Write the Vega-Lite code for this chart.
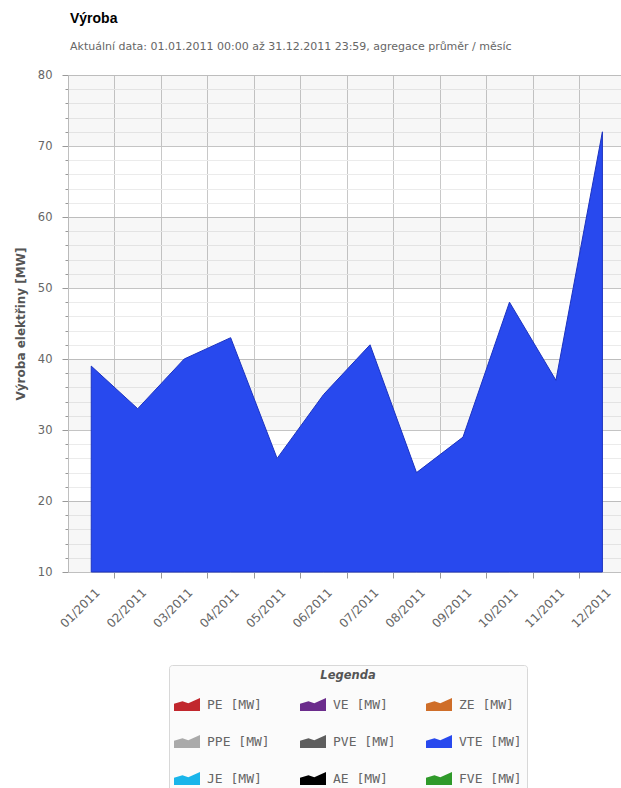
{
  "$schema": "https://vega.github.io/schema/vega-lite/v6.json",
  "width": 553,
  "height": 497,
  "autosize": {"type": "none"},
  "padding": {"left": 68, "top": 75, "right": 0, "bottom": 216},
  "background": "white",
  "title": {
    "text": "Výroba",
    "subtitle": "Aktuální data: 01.01.2011 00:00 až 31.12.2011 23:59, agregace průměr / měsíc",
    "anchor": "start",
    "frame": "group",
    "font": "Liberation Sans",
    "fontSize": 14,
    "fontWeight": "bold",
    "color": "#000000",
    "subtitleFont": "DejaVu Sans",
    "subtitleFontSize": 11,
    "subtitleColor": "#666666",
    "subtitlePadding": 15,
    "offset": 17,
    "dx": 2
  },
  "config": {"view": {"stroke": null}},
  "datasets": {
    "vyroba": [
      {"mesic": 1, "vyroba": 39, "serie": "VTE [MW]"},
      {"mesic": 2, "vyroba": 33, "serie": "VTE [MW]"},
      {"mesic": 3, "vyroba": 40, "serie": "VTE [MW]"},
      {"mesic": 4, "vyroba": 43, "serie": "VTE [MW]"},
      {"mesic": 5, "vyroba": 26, "serie": "VTE [MW]"},
      {"mesic": 6, "vyroba": 35, "serie": "VTE [MW]"},
      {"mesic": 7, "vyroba": 42, "serie": "VTE [MW]"},
      {"mesic": 8, "vyroba": 24, "serie": "VTE [MW]"},
      {"mesic": 9, "vyroba": 29, "serie": "VTE [MW]"},
      {"mesic": 10, "vyroba": 48, "serie": "VTE [MW]"},
      {"mesic": 11, "vyroba": 37, "serie": "VTE [MW]"},
      {"mesic": 12, "vyroba": 72, "serie": "VTE [MW]"}
    ],
    "pasy": [
      {"od": 10, "do": 20},
      {"od": 30, "do": 40},
      {"od": 50, "do": 60},
      {"od": 70, "do": 80}
    ]
  },
  "layer": [
    {
      "data": {"name": "pasy"},
      "mark": {"type": "rect", "fill": "#000000", "opacity": 0.03},
      "encoding": {
        "y": {
          "field": "od",
          "type": "quantitative",
          "scale": {"domain": [10, 80], "nice": false, "zero": false},
          "axis": {
            "orient": "left",
            "values": [12, 14, 16, 18, 22, 24, 26, 28, 32, 34, 36, 38, 42, 44, 46, 48, 52, 54, 56, 58, 62, 64, 66, 68, 72, 74, 76, 78],
            "grid": true,
            "gridColor": "#ebebeb",
            "ticks": true,
            "tickSize": 3,
            "tickColor": "#999999",
            "labels": false,
            "domain": false,
            "title": null
          }
        },
        "y2": {"field": "do"}
      }
    },
    {
      "data": {"name": "vyroba"},
      "mark": {"type": "point", "opacity": 0},
      "encoding": {
        "x": {
          "field": "mesic",
          "type": "quantitative",
          "scale": {"domain": [0.5, 12.4], "nice": false, "zero": false},
          "axis": {
            "orient": "bottom",
            "values": [1.5, 2.5, 3.5, 4.5, 5.5, 6.5, 7.5, 8.5, 9.5, 10.5, 11.5],
            "grid": true,
            "gridColor": "#c8c8c8",
            "ticks": true,
            "tickSize": 6,
            "tickColor": "#999999",
            "labels": false,
            "domain": false,
            "title": null
          }
        },
        "y": {"field": "vyroba", "type": "quantitative", "axis": null}
      }
    },
    {
      "data": {"name": "vyroba"},
      "mark": {"type": "area", "stroke": "#1c33c0", "strokeWidth": 1, "interpolate": "linear", "fillOpacity": 1},
      "encoding": {
        "x": {
          "field": "mesic",
          "type": "quantitative",
          "scale": {"domain": [0.5, 12.4], "nice": false, "zero": false},
          "axis": {
            "orient": "bottom",
            "values": [1, 2, 3, 4, 5, 6, 7, 8, 9, 10, 11, 12],
            "labelExpr": "(datum.value < 10 ? '0' : '') + datum.value + '/2011'",
            "grid": false,
            "ticks": false,
            "domain": true,
            "domainColor": "#c0c0c0",
            "labelAngle": -45,
            "labelAlign": "right",
            "labelBaseline": "middle",
            "labelOffset": 6,
            "labelPadding": 18,
            "labelFont": "DejaVu Sans",
            "labelFontSize": 12,
            "labelColor": "#666666",
            "title": null
          }
        },
        "y": {
          "field": "vyroba",
          "type": "quantitative",
          "stack": null,
          "scale": {"domain": [10, 80], "nice": false, "zero": false},
          "axis": {
            "orient": "left",
            "values": [10, 20, 30, 40, 50, 60, 70, 80],
            "grid": true,
            "gridColor": "#c4c4c4",
            "ticks": true,
            "tickSize": 6,
            "tickColor": "#999999",
            "domain": true,
            "domainColor": "#c0c0c0",
            "labelFont": "DejaVu Sans",
            "labelFontSize": 11.5,
            "labelColor": "#666666",
            "labelPadding": 10,
            "title": "Výroba elektřiny [MW]",
            "titleFont": "DejaVu Sans",
            "titleFontSize": 12,
            "titleFontWeight": "bold",
            "titleColor": "#555555",
            "titlePadding": 10
          }
        },
        "y2": {"datum": 10},
        "color": {
          "field": "serie",
          "type": "nominal",
          "scale": {
            "domain": ["PE [MW]", "PPE [MW]", "JE [MW]", "VE [MW]", "PVE [MW]", "AE [MW]", "ZE [MW]", "VTE [MW]", "FVE [MW]"],
            "range": ["#c1272d", "#aaaaaa", "#19b5ea", "#6b2c8c", "#5e5e5e", "#000000", "#cf6e29", "#2849ee", "#2f9a2a"]
          },
          "legend": {
            "orient": "none",
            "legendX": 101,
            "legendY": 590,
            "columns": 3,
            "title": "Legenda",
            "titleAnchor": "middle",
            "titleFont": "DejaVu Sans",
            "titleFontSize": 11.5,
            "titleFontStyle": "italic",
            "titleFontWeight": "bold",
            "titleColor": "#555555",
            "titlePadding": 10,
            "padding": 5,
            "fillColor": "#fbfbfb",
            "strokeColor": "#d8d8d8",
            "cornerRadius": 3,
            "symbolType": "M-1,0.5L-1,-0.05L-0.35,-0.25L0.1,-0.1L1,-0.5L1,0.5Z",
            "symbolSize": 676,
            "symbolStrokeWidth": 0,
            "symbolOpacity": 1,
            "labelFont": "DejaVu Sans Mono",
            "labelFontSize": 13,
            "labelColor": "#666666",
            "labelOffset": 7,
            "columnPadding": 30,
            "rowPadding": 17,
            "labelLimit": 200
          }
        }
      }
    }
  ],
  "resolve": {"axis": {"x": "independent", "y": "independent"}}
}
